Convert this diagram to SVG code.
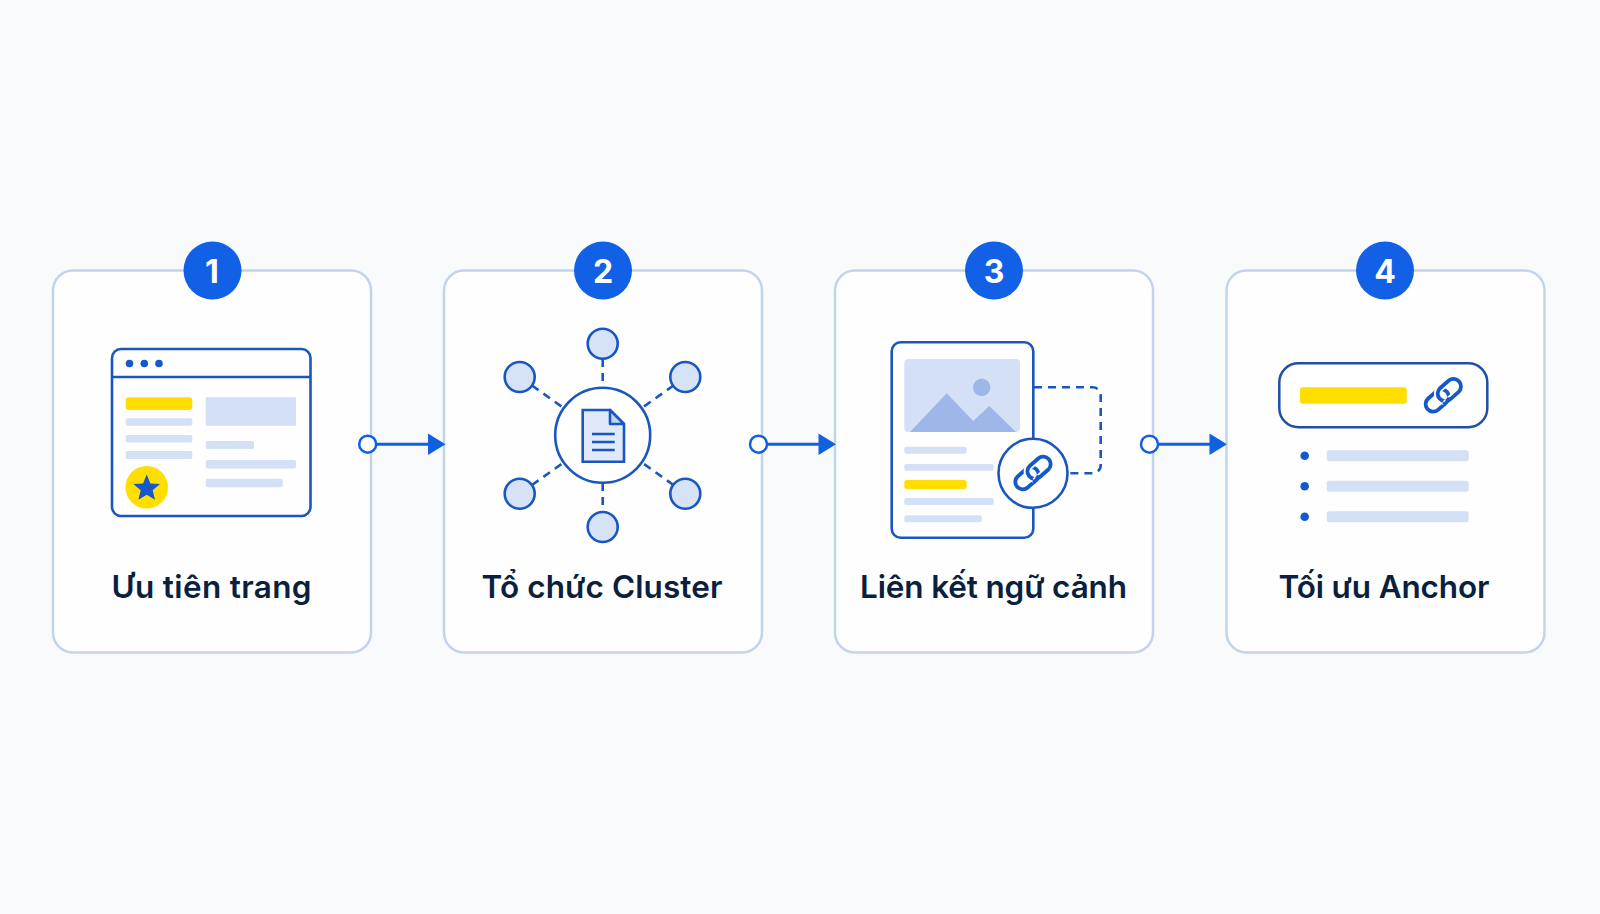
<svg xmlns="http://www.w3.org/2000/svg" xmlns:xlink="http://www.w3.org/1999/xlink" width="1600" height="914" viewBox="0 0 1600 914">
<style>
.card{fill:#fefeff;stroke:#c3d3ec;stroke-width:2.5}
.badge{fill:#1160e6}
.num{font:700 32px Inter,"Liberation Sans",sans-serif;fill:#fff;text-anchor:middle}
.label{font:600 31.5px Inter,"Liberation Sans",sans-serif;fill:#0b1f3f;text-anchor:middle}
.line{fill:#d3e0f6}
.y{fill:#ffde00}
.b{fill:#1558cc}
.o{fill:none;stroke:#1a56bf;stroke-width:2.6}
.o2{fill:#fff;stroke:#1a56bf;stroke-width:2.6}
.sat{fill:#d6e2f6;stroke:#1a56bf;stroke-width:2.6}
.dash{fill:none;stroke:#1a56bf;stroke-width:2.6;stroke-dasharray:8 6}
.cn{stroke:#1160e0;stroke-width:3;fill:none}
.cd{fill:#fff;stroke:#1160e0;stroke-width:2.5}
.ah{fill:#1160e0}
.lk{fill:none;stroke:#1558cc;stroke-width:3.8}
.hl{fill:none;stroke:#fff;stroke-width:7.5}
</style>
<defs>
<g id="link" transform="rotate(-41)">
<rect class="lk" x="-21" y="-7.5" width="26" height="15" rx="7.5"/>
<rect class="hl" x="-5" y="-7.5" width="26" height="15" rx="7.5"/>
<rect class="lk" x="-5" y="-7.5" width="26" height="15" rx="7.5"/>
<path class="hl" style="stroke-width:7" d="M-4 7.5H-1"/>
<path class="lk" d="M-6 7.5H-2.5a7.5 7.5 0 0 0 5.3-2.2"/>
</g>
</defs>
<rect width="1600" height="914" fill="#f8fafc"/>
<g id="node-1">
<rect class="card" x="53" y="270.5" width="318" height="382" rx="20"/>
<circle class="badge" cx="212.5" cy="270.5" r="29"/><text class="num" x="212" y="282.5">1</text>
<rect class="o" x="112" y="349" width="198.5" height="167" rx="9"/><path class="o" d="M112 377H310.5"/>
<circle class="b" cx="129.5" cy="363.5" r="3.8"/><circle class="b" cx="144.3" cy="363.5" r="3.8"/><circle class="b" cx="159" cy="363.5" r="3.8"/>
<rect class="y" x="125.7" y="397.3" width="66.6" height="12.7" rx="3"/>
<rect class="line" x="125.7" y="418.3" width="66.6" height="7.5" rx="2"/><rect class="line" x="125.7" y="435" width="66.6" height="7.5" rx="2"/><rect class="line" x="125.7" y="451" width="66.6" height="8" rx="2"/>
<rect class="line" x="205.7" y="397.3" width="90.3" height="28.4" rx="1"/>
<rect class="line" x="205.7" y="441" width="48.3" height="8" rx="2"/><rect class="line" x="205.7" y="460" width="90.3" height="8.5" rx="2"/><rect class="line" x="205.7" y="478.8" width="77" height="8.5" rx="2"/>
<circle class="y" cx="146.7" cy="487.3" r="21.3"/>
<polygon class="b" points="146.7,474.5 150.4,483.4 160,484.1 152.7,490.3 155,499.7 146.7,494.7 138.4,499.7 140.7,490.3 133.4,484.1 143,483.4"/>
<text class="label" x="211.5" y="597.5" textLength="200" lengthAdjust="spacing">Ưu tiên trang</text>
</g>
<g id="node-2">
<rect class="card" x="444" y="270.5" width="318" height="382" rx="20"/>
<circle class="badge" cx="603" cy="270.5" r="29"/><text class="num" x="603" y="282.5">2</text>
<path class="dash" style="stroke-dasharray:8 6" d="M602.7 359V388M602.7 483V512M532 385.5L563 407.5M673.5 385.5L642.5 407.5M532 485L563 463M673.5 485L642.5 463"/>
<circle class="o2" cx="602.7" cy="435.3" r="47.5"/>
<circle class="sat" cx="602.7" cy="343.7" r="15"/><circle class="sat" cx="519.7" cy="377" r="15"/><circle class="sat" cx="685.3" cy="377" r="15"/><circle class="sat" cx="519.7" cy="493.7" r="15"/><circle class="sat" cx="685.3" cy="493.7" r="15"/><circle class="sat" cx="602.7" cy="527" r="15"/>
<path class="sat" style="fill:#dfe9f9" d="M582.7 410H610L624 424V461.7H582.7Z"/><path class="o" style="fill:#c3d5f3;stroke-linejoin:round" d="M610 410V424H624Z"/>
<path class="o" d="M592 434H614.7M592 442H614.7M592 450H614.7"/>
<text class="label" x="602" y="597.5" textLength="241" lengthAdjust="spacing">Tổ chức Cluster</text>
</g>
<g id="node-3">
<rect class="card" x="835" y="270.5" width="318" height="382" rx="20"/>
<circle class="badge" cx="994" cy="270.5" r="29"/><text class="num" x="994" y="282.5">3</text>
<path class="dash" d="M1034 387.3H1092.7a8 8 0 0 1 8 8V465.3a8 8 0 0 1-8 8H1066"/>
<rect class="o" x="891.7" y="342.3" width="141.6" height="195.4" rx="9"/>
<rect class="line" x="904.3" y="359" width="115.7" height="73" rx="4"/>
<circle cx="981.7" cy="387.3" r="8.7" fill="#9db8e8"/>
<polygon fill="#9db8e8" points="910,432 946.7,393.3 973.3,421 989.3,406 1016,432"/>
<rect class="line" x="904.3" y="446.7" width="62.4" height="7" rx="2"/><rect class="line" x="904.3" y="464" width="89.4" height="6.8" rx="2"/><rect class="y" x="904.3" y="480" width="62.4" height="9" rx="2.5"/><rect class="line" x="904.3" y="498" width="89.4" height="7" rx="2"/><rect class="line" x="904.3" y="515.3" width="77.4" height="7" rx="2"/>
<circle class="o2" cx="1033" cy="473.3" r="34.5"/>
<use xlink:href="#link" href="#link" transform="translate(1033 473)"/>
<text class="label" x="993.5" y="597.5" textLength="267" lengthAdjust="spacing">Liên kết ngữ cảnh</text>
</g>
<g id="node-4">
<rect class="card" x="1226.5" y="270.5" width="318" height="382" rx="20"/>
<circle class="badge" cx="1385" cy="270.5" r="29"/><text class="num" x="1385" y="282.5">4</text>
<rect x="1279.3" y="363.3" width="208" height="64" rx="19" fill="#fff" stroke="#1f4fa8" stroke-width="2.5"/>
<rect class="y" x="1300" y="387.3" width="106.7" height="16.4" rx="2.5"/>
<use xlink:href="#link" href="#link" transform="translate(1443.3 395.3)"/>
<circle class="b" cx="1304.7" cy="455.7" r="4.3"/><circle class="b" cx="1304.7" cy="486.3" r="4.3"/><circle class="b" cx="1304.7" cy="516.7" r="4.3"/>
<rect class="line" x="1326.7" y="450.2" width="142" height="11" rx="2.5"/><rect class="line" x="1326.7" y="480.8" width="142" height="11" rx="2.5"/><rect class="line" x="1326.7" y="511.2" width="142" height="11" rx="2.5"/>
<text class="label" x="1384" y="597.5" textLength="211" lengthAdjust="spacing">Tối ưu Anchor</text>
</g>
<g id="connectors">
<g id="c1"><path class="cn" d="M376 444.2H430"/><polygon class="ah" points="428,433.5 445.5,444.2 428,455"/><circle class="cd" cx="367.7" cy="444.2" r="8.5"/></g>
<g id="c2"><path class="cn" d="M767 444.2H820"/><polygon class="ah" points="818.5,433.5 836,444.2 818.5,455"/><circle class="cd" cx="758.5" cy="444.2" r="8.5"/></g>
<g id="c3"><path class="cn" d="M1158 444.2H1211"/><polygon class="ah" points="1209.5,433.5 1227,444.2 1209.5,455"/><circle class="cd" cx="1149.5" cy="444.2" r="8.5"/></g>
</g>
</svg>
